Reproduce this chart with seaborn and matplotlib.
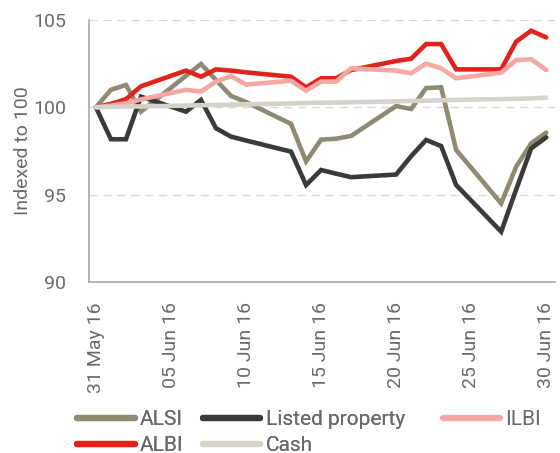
"""Indexed performance of SA asset classes, June 2016."""

import matplotlib.pyplot as plt
import matplotlib.dates as mdates
from matplotlib.lines import Line2D
import pandas as pd
import seaborn as sns

# trading days (16 Jun holiday carried forward)
dates = [
    "2016-05-31", "2016-06-01", "2016-06-02", "2016-06-03", "2016-06-06",
    "2016-06-07", "2016-06-08", "2016-06-09", "2016-06-10", "2016-06-13",
    "2016-06-14", "2016-06-15", "2016-06-16", "2016-06-17", "2016-06-20",
    "2016-06-21", "2016-06-22", "2016-06-23", "2016-06-24", "2016-06-27",
    "2016-06-28", "2016-06-29", "2016-06-30",
]
alsi = [100.0, 101.0, 101.28, 99.75, 101.8, 102.48, 101.56, 100.65, 100.3,
        99.05, 96.9, 98.15, 98.2, 98.36, 100.07, 99.9, 101.1, 101.14, 97.56,
        94.5, 96.6, 97.94, 98.55]
listed_property = [100.0, 98.17, 98.17, 100.61, 99.75, 100.42, 98.8, 98.32,
                   98.1, 97.46, 95.55, 96.41, 96.2, 96.0, 96.15, 97.2, 98.13,
                   97.78, 95.55, 92.88, 95.3, 97.65, 98.28]
ilbi = [100.0, 100.1, 100.23, 100.45, 101.0, 100.9, 101.47, 101.79, 101.3,
        101.52, 100.95, 101.47, 101.47, 102.23, 102.1, 101.95, 102.5, 102.23,
        101.66, 101.98, 102.7, 102.75, 102.13]
albi = [100.0, 100.2, 100.46, 101.2, 102.1, 101.75, 102.17, 102.1, 102.0,
        101.75, 101.14, 101.66, 101.66, 102.13, 102.65, 102.78, 103.62,
        103.62, 102.17, 102.17, 103.76, 104.38, 104.0]
cash = [100.0, 100.02, 100.04, 100.05, 100.1, 100.12, 100.13, 100.15, 100.17,
        100.22, 100.24, 100.26, 100.27, 100.29, 100.34, 100.36, 100.38, 100.4,
        100.42, 100.47, 100.49, 100.51, 100.55]

series = {
    "ALSI": alsi,
    "Listed property": listed_property,
    "ALBI": albi,
    "ILBI": ilbi,
    "Cash": cash,
}
colors = {
    "ALSI": "#8f8a74",
    "Listed property": "#3a3a3a",
    "ILBI": "#f4a7a3",
    "ALBI": "#e2231a",
    "Cash": "#d5d2cc",
}
tick_dates = ["2016-05-31", "2016-06-05", "2016-06-10", "2016-06-15",
              "2016-06-20", "2016-06-25", "2016-06-30"]

frames = []
for name, vals in series.items():
    frames.append(pd.DataFrame({"date": pd.to_datetime(dates), "value": vals, "series": name}))
df = pd.concat(frames, ignore_index=True)
# points (and labels) sit mid-day, tick marks at midnight
df["date"] = df["date"] + pd.Timedelta(hours=11)

sns.set_style("white")
plt.rcParams["font.family"] = ["Roboto", "DejaVu Sans"]
text_col = "#6a6a6a"
axis_col = "#a8a8a8"

fig = plt.figure(figsize=(5.6, 4.53), dpi=100)
ax = fig.add_axes([0.159, 0.3775, 0.832, 0.5785])

sns.lineplot(
    data=df, x="date", y="value", hue="series",
    hue_order=list(series.keys()), palette=colors,
    linewidth=3.3, legend=False, ax=ax,
)
for line in ax.get_lines():
    line.set_solid_joinstyle("miter")

ax.set_ylim(90, 105)
ax.set_yticks([90, 95, 100, 105])
ax.set_xlim(pd.Timestamp("2016-05-31"), pd.Timestamp("2016-07-01 01:00"))
ticks = pd.to_datetime(tick_dates)
ax.set_xticks(ticks)
ax.set_xticklabels([])
ax.set_xticks(ticks + pd.Timedelta(hours=11), minor=True)
ax.xaxis.set_minor_formatter(mdates.DateFormatter("%d %b %y"))

for y in [95, 100, 105]:
    ax.axhline(y, color="#dcdad5", lw=1.0, ls=(0, (6, 4)), zorder=0)

for side in ["top", "right"]:
    ax.spines[side].set_visible(False)
for side in ["left", "bottom"]:
    ax.spines[side].set_color(axis_col)
    ax.spines[side].set_linewidth(1.2)

ax.tick_params(axis="both", which="major", colors=axis_col, length=5.5, width=1.2,
               labelcolor=text_col, labelsize=14, direction="out")
ax.tick_params(axis="y", pad=11)
ax.tick_params(axis="x", which="minor", length=0, pad=14.5,
               labelcolor=text_col, labelsize=14)
plt.setp(ax.get_xticklabels(minor=True), rotation=90, ha="center", va="top")

ax.set_xlabel("")
ax.set_ylabel("Indexed to 100", color=text_col, fontsize=14, labelpad=1)

leg_kw = dict(frameon=False, fontsize=15, handlelength=2.75, handletextpad=0.25,
              columnspacing=0.95, labelspacing=0.33, borderaxespad=0, borderpad=0)

order = ["ALSI", "ALBI", "Listed property", "Cash"]
handles = [Line2D([], [], color=colors[n], lw=4.5, solid_capstyle="round") for n in order]
leg = fig.legend(handles, order, ncol=2, loc="upper left",
                 bbox_to_anchor=(0.138, 0.095), **leg_kw)
for t in leg.get_texts():
    t.set_color(text_col)

leg2 = fig.legend([Line2D([], [], color=colors["ILBI"], lw=4.5, solid_capstyle="round")],
                  ["ILBI"], loc="upper left", bbox_to_anchor=(0.791, 0.095), **leg_kw)
for t in leg2.get_texts():
    t.set_color(text_col)
fig.add_artist(leg)

fig.savefig("out.png", dpi=100)
